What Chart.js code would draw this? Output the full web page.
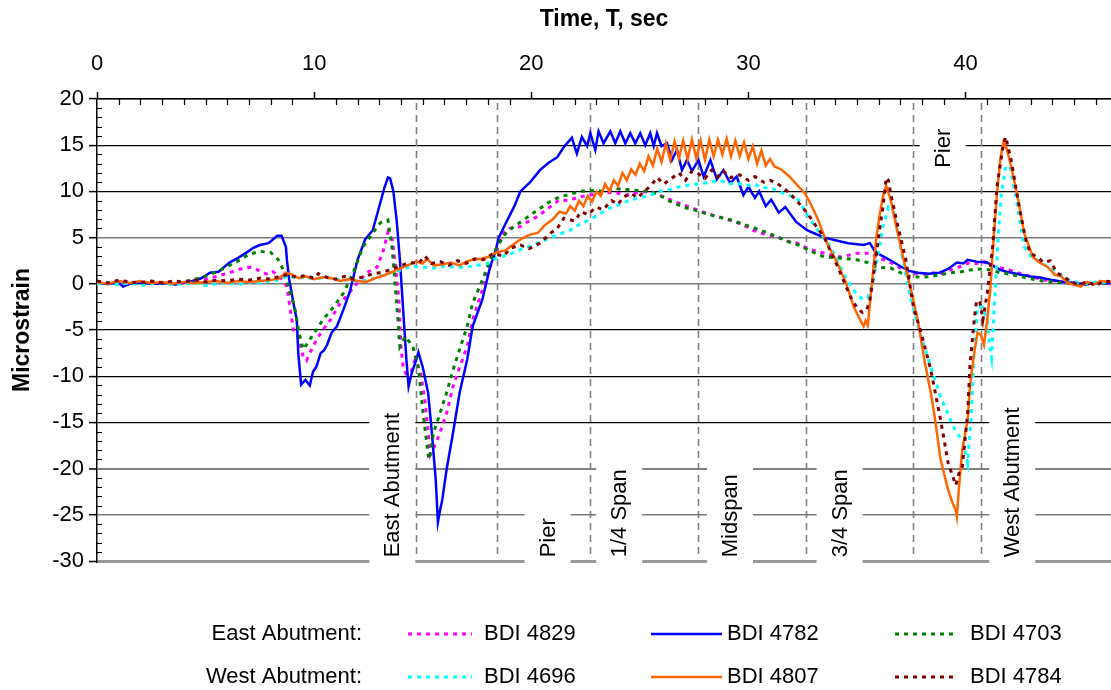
<!DOCTYPE html>
<html>
<head>
<meta charset="utf-8">
<script src="https://cdn.jsdelivr.net/npm/chart.js@4.4.1/dist/chart.umd.min.js"></script>
<style>
  html, body { margin: 0; padding: 0; background: #fff; }
  #wrap { width: 1111px; height: 690px; }
</style>
</head>
<body>
<div id="wrap"><canvas id="chart" width="1111" height="690"></canvas></div>
<script>
// strain records: [time (sec), microstrain]
const bdi4829 = [[0,0.1],[0.5,0],[1,0.2],[1.5,0],[2,0.1],[2.5,0.2],[3,0],[3.5,0.2],[4,0.1],[4.5,0.3],[5,0.5],[5.5,0.8],[6.1,1.2],[6.6,1.6],[7.1,1.8],[7.4,1.5],[7.65,1.2],[7.9,1.0],[8.1,1.3],[8.4,0.8],[8.75,-0.3],[8.9,-2.8],[9.05,-5.0],[9.25,-5.7],[9.5,-7.9],[9.65,-8.3],[9.8,-7.5],[10.1,-6.1],[10.4,-5.0],[10.75,-3.9],[11.2,-2.1],[11.65,-0.9],[12.1,0.4],[12.5,1.3],[12.9,1.8],[13.2,3.7],[13.4,5.6],[13.6,4.8],[13.75,1.8],[13.9,-1.7],[14,-6.8],[14.1,-9.0],[14.35,-10.4],[14.65,-8.2],[14.9,-9.6],[15.1,-12.6],[15.25,-16.0],[15.35,-18.5],[15.5,-17.8],[15.8,-16.1],[16.1,-14.0],[16.4,-11.1],[16.7,-9.0],[17.05,-6.8],[17.3,-3.9],[17.75,-0.6],[18.1,1.8],[18.4,3.5],[18.7,5.5],[19,6.0],[19.5,6.2],[19.9,6.8],[20.3,7.3],[20.8,8.2],[21.3,9.1],[21.7,9.0],[22.2,9.4],[22.7,9.6],[23.3,9.8],[23.8,9.9],[24.4,9.6],[24.9,9.9],[25.5,10.0],[26.1,9.4],[26.7,8.8],[27.2,8.4],[27.65,8.0],[28.1,7.6],[28.55,7.3],[29,7.0],[29.5,6.6],[29.9,6.2],[30.4,5.6],[30.9,5.3],[31.3,5.1],[31.8,4.6],[32.25,4.4],[32.85,3.7],[33.5,3.3],[34.25,2.9],[35,3.3],[35.6,3.3],[36,2.8],[36.55,2.3],[37,1.7],[37.45,1.2],[38,1.0],[38.4,1.2],[38.9,1.1],[39.3,1.5],[39.8,1.9],[40.2,2.3],[40.5,2.2],[40.85,2.4],[41.2,2.0],[41.5,1.8],[42,1.5],[42.4,1.2],[43,0.8],[43.6,0.4],[44.2,0.3],[44.8,0.1],[45.4,0],[46,0.1],[46.7,0]];

const bdi4782 = [[0,0.1],[0.5,0],[1,0.1],[1.2,-0.3],[1.5,0],[2,0.1],[2.5,0],[3,0],[3.3,0.1],[3.6,-0.1],[4,0.1],[4.4,0.3],[4.8,0.6],[5.2,1.2],[5.6,1.3],[6.1,2.3],[6.5,2.8],[6.9,3.4],[7.2,3.9],[7.5,4.2],[7.9,4.4],[8.1,4.8],[8.3,5.2],[8.5,5.2],[8.7,4.0],[8.75,2.5],[8.85,0.5],[9.05,-2.1],[9.2,-3.9],[9.27,-7.5],[9.4,-10.9],[9.6,-10.4],[9.8,-11.0],[9.95,-9.5],[10.1,-9.0],[10.3,-7.5],[10.45,-7.2],[10.6,-6.6],[10.8,-5.3],[11.05,-4.6],[11.35,-2.8],[11.65,-0.8],[12,2.6],[12.35,4.8],[12.7,5.8],[13.05,8.8],[13.25,10.5],[13.4,11.5],[13.5,11.4],[13.65,10.0],[13.8,6.9],[13.95,2.6],[14.1,-2.8],[14.25,-8.2],[14.35,-11.1],[14.5,-9.6],[14.65,-8.6],[14.8,-7.4],[15,-9.0],[15.25,-11.8],[15.4,-15.5],[15.6,-21.2],[15.7,-25.8],[15.8,-24.5],[15.9,-23.4],[16.1,-20.1],[16.4,-16.1],[16.7,-11.8],[17.05,-8.2],[17.3,-4.6],[17.75,-1.7],[18.1,1.8],[18.35,3.5],[18.5,5.0],[18.9,6.9],[19.2,8.3],[19.5,10.0],[19.95,11.0],[20.4,12.3],[20.8,13.1],[21.2,13.7],[21.5,14.8],[21.87,15.8],[22.1,14.1],[22.33,15.9],[22.57,14.9],[22.72,16.3],[22.95,14.5],[23.1,16.5],[23.33,15.2],[23.64,16.5],[23.87,15.2],[24.1,16.5],[24.33,15.2],[24.56,16.3],[24.79,15.2],[25.02,16.3],[25.25,15.0],[25.48,16.3],[25.64,14.9],[25.79,16.3],[26,14.9],[26.25,15.2],[26.48,13.4],[26.71,14.5],[26.94,12.3],[27.17,13.4],[27.4,12.2],[27.7,13.4],[27.94,11.6],[28.25,13.4],[28.55,11.3],[28.85,12.3],[29.16,10.9],[29.46,11.6],[29.77,9.6],[30,10.5],[30.3,9.3],[30.5,10.0],[30.8,8.4],[31.05,9.1],[31.4,7.7],[31.7,8.3],[32.2,6.7],[32.7,5.8],[33,5.5],[33.5,5.0],[34.2,4.6],[34.6,4.4],[35.3,4.2],[35.6,4.4],[35.8,3.6],[36.1,3.1],[36.5,2.6],[37,1.9],[37.4,1.4],[37.8,1.2],[38.3,1.1],[38.8,1.2],[39.2,1.6],[39.6,2.3],[39.9,2.2],[40.1,2.6],[40.5,2.4],[41,2.3],[41.3,1.9],[41.6,1.5],[41.9,1.3],[42.5,1.0],[43,0.8],[43.5,0.65],[44,0.4],[44.5,0.2],[45,0.1],[45.5,-0.1],[46,0.1],[46.7,0.1]];

const bdi4703 = [[0,0.2],[0.5,0],[1,0.2],[1.5,0.1],[2,0],[2.5,0.2],[3,0.1],[3.5,0],[4,0.2],[4.3,0.4],[4.7,0.6],[5.1,0.9],[5.7,1.5],[6.1,2.0],[6.6,2.6],[7,3.2],[7.5,3.5],[8,3.4],[8.35,2.6],[8.65,1.2],[8.9,-1.0],[9.1,-2.5],[9.3,-5.3],[9.5,-7.1],[9.7,-6.4],[9.95,-5.5],[10.1,-5.0],[10.4,-3.9],[10.9,-2.5],[11.35,-1.0],[11.8,1.2],[12.25,4.0],[12.7,5.5],[13.05,6.6],[13.4,6.9],[13.6,3.7],[13.8,-2.1],[13.95,-6.8],[14.2,-5.7],[14.55,-6.8],[14.8,-9.0],[15,-13.6],[15.25,-18.5],[15.3,-19.0],[15.5,-16.1],[15.8,-14.0],[16.1,-11.8],[16.4,-9.3],[16.7,-7.1],[17.05,-4.6],[17.3,-2.1],[17.75,0.4],[18.1,2.6],[18.5,4.3],[18.8,5.4],[19.2,6.2],[19.7,7.0],[20.3,8.0],[20.8,8.8],[21.3,9.4],[21.8,9.7],[22.25,10.0],[22.8,10.1],[23.3,10.0],[23.8,10.3],[24.4,10.2],[24.9,10.1],[25.5,10.0],[25.9,9.6],[26.25,9.1],[26.6,8.7],[27,8.3],[27.5,8.0],[27.9,7.7],[28.5,7.3],[29.2,6.9],[29.7,6.5],[30.2,6.1],[30.8,5.6],[31.3,5.1],[31.8,4.6],[32.3,4.2],[32.9,3.5],[33.5,2.9],[34.2,2.8],[35,2.6],[35.5,2.3],[35.9,1.8],[36.55,1.7],[37,1.2],[37.45,0.8],[38,0.7],[38.4,0.8],[38.9,1.0],[39.3,1.2],[39.8,1.3],[40.2,1.5],[40.7,1.6],[41.15,1.5],[41.6,1.2],[42.1,1.0],[42.7,0.7],[43.3,0.4],[43.9,0.2],[44.5,0.1],[45.1,0],[45.7,0.1],[46.3,0],[46.7,0.1]];

const bdi4696 = [[0,0],[0.5,0.1],[1,-0.1],[1.5,0.1],[2,-0.2],[2.5,0],[3,0.1],[3.5,-0.1],[4,0],[4.5,0.1],[5,-0.2],[5.5,0],[6,0.1],[6.5,-0.1],[7,0.2],[7.5,0.1],[8,0.3],[8.4,0.4],[8.8,0.9],[9.2,0.6],[9.6,0.7],[10,0.5],[10.5,0.7],[11,0.5],[11.5,0.4],[12,0.3],[12.5,0.4],[13,0.8],[13.5,1.2],[14,1.5],[14.5,1.9],[15,1.8],[15.5,1.7],[16,1.9],[16.5,1.8],[17,1.8],[17.5,2.0],[18,2.2],[18.4,2.8],[19,3.2],[19.5,3.7],[20.1,4.2],[20.7,4.8],[21.2,5.3],[21.8,5.8],[22.2,6.4],[22.7,6.9],[23.1,7.5],[23.6,8.2],[24.1,8.6],[24.6,9.1],[25,9.3],[25.5,9.6],[25.9,10.0],[26.4,10.2],[26.8,10.5],[27.3,10.7],[27.7,10.8],[28.25,11.0],[28.7,11.2],[29.1,10.8],[29.5,10.9],[29.9,10.6],[30.3,10.8],[30.6,10.4],[31,10.4],[31.4,10.0],[31.8,9.6],[32.25,9.3],[32.5,8.3],[32.85,6.9],[33.3,5.5],[33.8,4.0],[34.2,2.0],[34.55,0.4],[34.8,-0.5],[35,-1.2],[35.3,-1.7],[35.5,-1.5],[35.75,0.4],[36,3.5],[36.2,6.2],[36.45,8.3],[36.7,7.7],[37,4.0],[37.45,-1.4],[37.9,-5.3],[38.4,-9.0],[38.85,-12.2],[39.45,-15.5],[39.9,-17.2],[40.1,-19.4],[40.25,-14.7],[40.4,-7.5],[40.55,-2.5],[40.8,-2.5],[41,-3.9],[41.1,-6.5],[41.2,-8.0],[41.35,-1.5],[41.5,5.0],[41.65,9.8],[41.85,12.7],[42.05,12.7],[42.4,8.3],[42.7,4.0],[43,3.0],[43.3,2.6],[43.8,1.8],[44.25,1.2],[44.7,0.5],[45.2,0.1],[45.6,0],[46,0.2],[46.7,0.1]];

const bdi4807 = [[0,0.2],[0.5,0],[1,0.3],[1.5,0.1],[2,0.3],[2.5,0.1],[3,0.2],[3.5,0],[4,0.2],[4.5,0.1],[5,0.2],[5.5,0.3],[6,0.1],[6.5,0.3],[7,0.2],[7.5,0.3],[8,0.4],[8.4,0.6],[8.7,1.2],[9,1.0],[9.3,0.6],[9.6,0.8],[10,0.5],[10.4,0.7],[10.8,0.6],[11.2,0.3],[11.6,0.5],[12,0.3],[12.4,0.2],[12.8,0.6],[13.2,0.9],[13.6,1.3],[14,1.7],[14.3,2.0],[14.7,2.4],[15,2.2],[15.2,2.7],[15.5,2.0],[15.9,2.1],[16.3,2.3],[16.7,2.0],[17,2.4],[17.3,2.6],[17.7,2.7],[18,2.9],[18.4,3.4],[18.8,3.6],[19.2,4.3],[19.5,4.8],[19.9,5.3],[20.3,5.5],[20.6,6.3],[21,7.0],[21.3,7.8],[21.6,7.6],[21.8,8.4],[22,7.9],[22.2,9.0],[22.4,8.4],[22.6,9.5],[22.8,8.9],[23,10.0],[23.2,9.5],[23.4,10.8],[23.6,10.0],[23.8,11.2],[24,10.6],[24.2,12.0],[24.4,11.2],[24.6,12.4],[24.8,11.8],[25,13.0],[25.2,12.2],[25.4,13.8],[25.6,12.8],[25.8,14.6],[26,13.2],[26.2,15.2],[26.4,13.4],[26.6,15.4],[26.8,13.6],[27,15.5],[27.2,13.5],[27.4,15.6],[27.6,13.6],[27.8,15.5],[28,13.4],[28.2,15.6],[28.4,13.8],[28.6,15.6],[28.8,14.0],[29,15.7],[29.2,13.8],[29.4,15.5],[29.6,13.8],[29.8,15.3],[30,13.5],[30.2,14.9],[30.4,13.0],[30.6,14.4],[30.8,12.8],[31,13.5],[31.2,12.7],[31.5,12.4],[31.9,11.6],[32.2,10.8],[32.6,9.8],[32.9,8.5],[33.2,7.0],[33.6,4.5],[34.1,2.2],[34.5,0.1],[34.85,-2.5],[35.15,-3.9],[35.3,-4.6],[35.4,-4.0],[35.5,-4.5],[35.6,-2.0],[35.75,1.5],[35.9,5.1],[36.05,7.5],[36.2,9.5],[36.35,10.6],[36.55,9.1],[36.85,5.8],[37.15,2.6],[37.45,-0.3],[37.8,-3.9],[38.1,-8.2],[38.4,-11.8],[38.6,-14.7],[38.85,-19.0],[39.2,-22.3],[39.4,-23.7],[39.55,-24.5],[39.6,-25.2],[39.7,-22.0],[39.85,-18.0],[40.1,-14.7],[40.2,-11.1],[40.4,-7.5],[40.55,-5.3],[40.7,-5.5],[40.85,-6.6],[41,-3.9],[41.15,-0.3],[41.3,5.1],[41.45,9.8],[41.6,13.4],[41.75,15.4],[41.9,14.6],[42.1,12.7],[42.4,9.4],[42.7,5.5],[43.1,2.9],[43.4,2.3],[43.8,1.8],[44.1,1.0],[44.4,0.8],[44.7,0.1],[45,-0.1],[45.3,-0.3],[45.6,0.2],[45.9,-0.1],[46.2,0.3],[46.7,0.2]];

const bdi4784 = [[0,0.3],[0.5,0.1],[1,0.4],[1.5,0.2],[2,0.1],[2.5,0.3],[3,0.1],[3.5,0.3],[4,0.2],[4.5,0.4],[5,0.2],[5.5,0.4],[6,0.3],[6.5,0.5],[7,0.4],[7.5,0.6],[8,0.5],[8.4,0.8],[8.8,1.0],[9.2,0.7],[9.6,0.9],[10,0.6],[10.2,1.1],[10.6,0.7],[11,0.5],[11.4,0.8],[11.8,0.5],[12.2,0.7],[12.6,1.0],[13,1.2],[13.5,1.5],[13.9,1.9],[14.4,2.3],[14.8,2.2],[15.1,3.0],[15.4,2.2],[15.8,2.4],[16.2,2.0],[16.6,2.5],[17,2.2],[17.4,2.7],[17.8,2.6],[18.25,3.3],[18.7,3.0],[19.1,3.9],[19.5,4.2],[19.9,3.8],[20.4,4.4],[20.9,5.5],[21.2,6.0],[21.5,7.1],[22,6.8],[22.3,7.8],[22.6,7.5],[23,8.3],[23.3,8.0],[23.7,9.0],[24,8.6],[24.25,9.4],[24.6,9.8],[24.9,9.3],[25.2,10.0],[25.5,10.6],[25.8,11.5],[26.1,10.8],[26.4,11.3],[26.8,12.0],[27.1,11.2],[27.4,12.2],[27.65,12.0],[28,11.4],[28.3,12.3],[28.6,11.6],[28.85,12.2],[29.2,11.5],[29.6,11.8],[30,11.2],[30.3,11.6],[30.7,11.0],[31,11.2],[31.3,10.9],[31.6,10.4],[31.9,9.8],[32.3,8.8],[32.7,7.7],[33.1,6.3],[33.5,5.0],[34.1,1.9],[34.7,-1.4],[35,-2.6],[35.25,-3.1],[35.45,-2.8],[35.6,-1.7],[35.75,0.8],[35.9,3.3],[36.05,6.0],[36.2,8.3],[36.35,11.5],[36.45,11.2],[36.55,9.8],[36.85,6.6],[37.25,2.6],[37.6,-2.5],[38,-5.7],[38.4,-9.3],[38.85,-14.7],[39.2,-19.4],[39.55,-21.8],[39.7,-20.5],[39.85,-19.8],[40.1,-14.0],[40.2,-9.0],[40.4,-3.9],[40.5,-2.0],[40.65,-1.8],[40.8,-3.9],[41,-1.0],[41.25,4.0],[41.45,10.5],[41.7,14.5],[41.85,15.9],[42.1,13.4],[42.5,8.0],[42.8,4.5],[43,3.3],[43.3,2.9],[43.6,2.3],[43.9,2.5],[44.2,1.2],[44.5,0.8],[44.8,0.3],[45.2,-0.1],[45.6,0.2],[46,-0.2],[46.4,0.3],[46.7,0.2]];

// bridge section marks (time, sec)
const markerTimes = [14.7, 18.4, 22.7, 27.7, 32.65, 37.6, 40.7];
const markerNames = ['East Abutment', 'Pier', '1/4 Span', 'Midspan', '3/4 Span', 'Pier', 'West Abutment'];
const markerLabelT = [13.6, 20.75, 24.05, 29.15, 34.2, 38.95, 42.15];
const markerLabelV = [-29.6, -29.6, -29.6, -29.6, -29.6, 12.55, -29.6];

const xTicks = [0, 10, 20, 30, 40];
const legendRows = ['East Abutment:', 'West Abutment:'];
const legendGroups = [['BDI 4829', 'BDI 4782', 'BDI 4703'], ['BDI 4696', 'BDI 4807', 'BDI 4784']];

const FONT = '"Liberation Sans", Arial, sans-serif';

const series = [
  { label: 'BDI 4829', pts: bdi4829, color: '#ff00ff', dash: [4, 5], width: 3, order: 5 },
  { label: 'BDI 4782', pts: bdi4782, color: '#0000ff', dash: [], width: 2.5, order: 4 },
  { label: 'BDI 4703', pts: bdi4703, color: '#008000', dash: [4, 5], width: 3, order: 3 },
  { label: 'BDI 4696', pts: bdi4696, color: '#00ffff', dash: [4, 5], width: 3, order: 2 },
  { label: 'BDI 4807', pts: bdi4807, color: '#ff6600', dash: [], width: 2.5, order: 1 },
  { label: 'BDI 4784', pts: bdi4784, color: '#800000', dash: [4, 5], width: 3, order: 0 },
];

// gridline look per y value
function gridStyle(v) {
  if (v === -30) return { c: '#999999', w: 3 };
  if (v === -20) return { c: '#808080', w: 2 };
  if (v === 5 || v === 0 || v === -25) return { c: '#7a7a7a', w: 1.4 };
  return { c: '#000000', w: 1.2 };
}

const minorTicks = {
  id: 'minorTicks',
  beforeDatasetsDraw(chart) {
    const { ctx, chartArea: a, scales: { x, y } } = chart;
    ctx.save();
    ctx.strokeStyle = '#000';
    ctx.lineWidth = 1.2;
    ctx.beginPath();
    for (let t = 1; t <= x.max; t++) {
      if (t % 10 === 0) continue;
      const px = Math.round(x.getPixelForValue(t)) + 0.5;
      ctx.moveTo(px, a.top);
      ctx.lineTo(px, a.top + 6);
    }
    for (let v = y.min + 1; v < y.max; v++) {
      if (v % 5 === 0) continue;
      const py = Math.round(y.getPixelForValue(v)) + 0.5;
      ctx.moveTo(a.left, py);
      ctx.lineTo(a.left + 5, py);
    }
    ctx.stroke();
    ctx.restore();
  }
};

const sectionMarks = {
  id: 'sectionMarks',
  beforeDatasetsDraw(chart) {
    const { ctx, chartArea: a, scales: { x, y } } = chart;
    ctx.save();
    ctx.strokeStyle = '#808080';
    ctx.lineWidth = 1.6;
    ctx.setLineDash([7, 5]);
    markerTimes.forEach(t => {
      const px = Math.round(x.getPixelForValue(t)) + 0.5;
      ctx.beginPath();
      ctx.moveTo(px, a.top + 4);
      ctx.lineTo(px, a.bottom - 6);
      ctx.stroke();
    });
    ctx.setLineDash([]);
    ctx.font = '22px ' + FONT;
    markerNames.forEach((name, i) => {
      const px = x.getPixelForValue(markerLabelT[i]);
      const py = y.getPixelForValue(markerLabelV[i]);
      const w = ctx.measureText(name).width;
      const top = py - w - 8;
      const bottom = markerLabelV[i] < 0 ? a.bottom + 2 : py + 6;
      ctx.fillStyle = '#fff';
      ctx.fillRect(px - 23, top, 46, bottom - top);
      ctx.save();
      ctx.translate(px, py);
      ctx.rotate(-Math.PI / 2);
      ctx.fillStyle = '#000';
      ctx.textAlign = 'left';
      ctx.textBaseline = 'middle';
      ctx.fillText(name, 0, 1);
      ctx.restore();
    });
    ctx.restore();
  }
};

const sensorLegend = {
  id: 'sensorLegend',
  afterDraw(chart) {
    const ctx = chart.ctx;
    const rowY = [634, 677];
    const lineX = [[408, 472], [651, 722], [895, 958]];
    const textX = [484, 727, 970];
    ctx.save();
    ctx.font = '22px ' + FONT;
    ctx.textBaseline = 'middle';
    legendRows.forEach((row, r) => {
      ctx.fillStyle = '#000';
      ctx.textAlign = 'right';
      ctx.fillText(row, 362, rowY[r]);
      legendGroups[r].forEach((lab, c) => {
        const ds = chart.data.datasets.find(d => d.label === lab);
        ctx.strokeStyle = ds.borderColor;
        ctx.lineWidth = ds.borderWidth;
        ctx.setLineDash(ds.borderDash);
        ctx.beginPath();
        ctx.moveTo(lineX[c][0], rowY[r]);
        ctx.lineTo(lineX[c][1], rowY[r]);
        ctx.stroke();
        ctx.setLineDash([]);
        ctx.fillStyle = '#000';
        ctx.textAlign = 'left';
        ctx.fillText(lab, textX[c], rowY[r]);
      });
    });
    ctx.restore();
  }
};

new Chart(document.getElementById('chart'), {
  type: 'line',
  data: {
    datasets: series.map(s => ({
      label: s.label,
      data: s.pts.map(p => ({ x: p[0], y: p[1] })),
      borderColor: s.color,
      backgroundColor: s.color,
      borderWidth: s.width,
      borderDash: s.dash,
      borderCapStyle: 'butt',
      pointRadius: 0,
      tension: 0,
      fill: false,
      order: s.order,
    }))
  },
  options: {
    responsive: false,
    animation: false,
    events: [],
    layout: { padding: { left: 0, right: 0, top: 0, bottom: 129 } },
    scales: {
      x: {
        type: 'linear',
        position: 'top',
        min: 0,
        max: 46.7,
        afterFit: s => { s.height = 99; },
        afterBuildTicks: s => { s.ticks = xTicks.map(v => ({ value: v })); },
        ticks: { color: '#000', font: { family: FONT, size: 22 }, padding: 15, maxRotation: 0 },
        grid: { drawOnChartArea: false, drawTicks: true, tickLength: 7, tickColor: '#000', tickWidth: 1.5, color: '#000' },
        border: { display: true, color: '#000', width: 1.5 },
        title: { display: true, text: 'Time, T, sec', color: '#000', font: { family: FONT, size: 23, weight: 'bold' }, padding: { top: 6, bottom: 0 } },
      },
      y: {
        type: 'linear',
        min: -30,
        max: 20,
        afterFit: s => { s.width = 97; },
        ticks: { stepSize: 5, color: '#000', font: { family: FONT, size: 22 }, padding: 5 },
        grid: {
          drawTicks: true,
          tickLength: 8,
          tickColor: '#000',
          tickWidth: 1.5,
          color: c => gridStyle(c.tick.value).c,
          lineWidth: c => gridStyle(c.tick.value).w,
        },
        border: { display: true, color: '#000', width: 1.5 },
        title: { display: true, text: 'Microstrain', color: '#000', font: { family: FONT, size: 23, weight: 'bold' }, padding: { top: 9, bottom: 0 } },
      }
    },
    plugins: {
      legend: { display: false },
      tooltip: { enabled: false },
    }
  },
  plugins: [minorTicks, sectionMarks, sensorLegend]
});
</script>
</body>
</html>
